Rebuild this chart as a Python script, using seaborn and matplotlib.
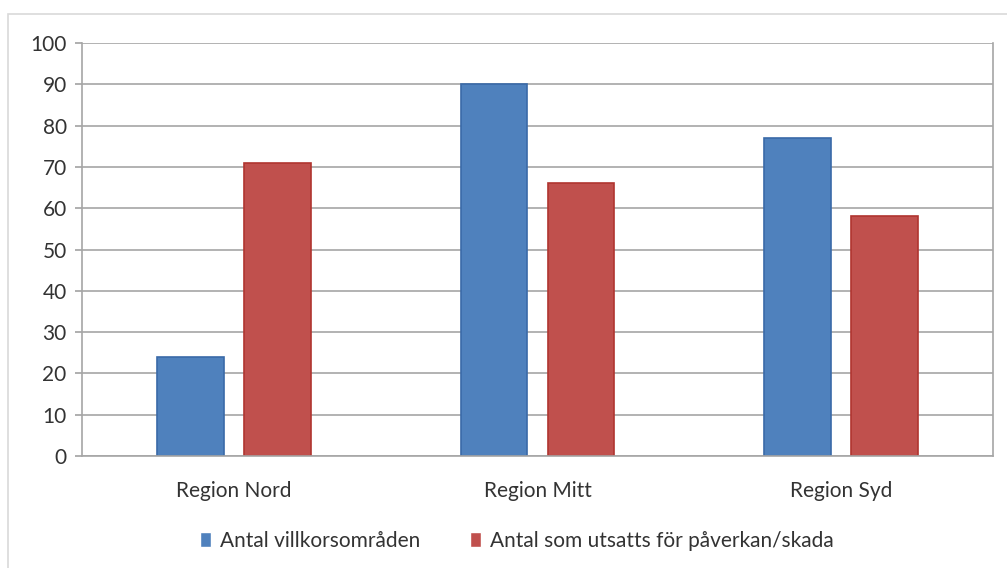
import pandas as pd
import seaborn as sns
from matplotlib import pyplot as plt
from matplotlib.patches import Rectangle

regions = ["Region Nord", "Region Mitt", "Region Syd"]
series_names = ["Antal villkorsområden", "Antal som utsatts för påverkan/skada"]
villkor = [24, 90, 77]
paverkan = [71, 66, 58]

df = pd.DataFrame({
    "Region": regions * 2,
    "Serie": [series_names[0]] * 3 + [series_names[1]] * 3,
    "Antal": villkor + paverkan,
})

sns.set_theme(style="white")
plt.rcParams['font.family'] = ['Lato', 'DejaVu Sans']
fs = 15

fig = plt.figure(figsize=(10.07, 5.68), dpi=100)
# outer chart frame
fig.patches.append(Rectangle((8 / 1007, -0.01), 1.0, (568 - 14) / 568 + 0.01,
                             transform=fig.transFigure, fill=False,
                             edgecolor="#d9d9d9", linewidth=1.2))
ax = fig.add_axes([82 / 1007, (568 - 456) / 568, (993 - 82) / 1007, (456 - 43) / 568])

palette = {series_names[0]: "#4f81bd", series_names[1]: "#c0504d"}
sns.barplot(data=df, x="Region", y="Antal", hue="Serie", palette=palette,
            width=0.573, gap=0.23, saturation=1, ax=ax, legend=True)
edge = {series_names[0]: "#3a6aa8", series_names[1]: "#b03530"}
for cont, name in zip(ax.containers, series_names):
    for bar in cont:
        bar.set_edgecolor(edge[name])
        bar.set_linewidth(1.2)

ax.set_ylim(0, 100)
ax.set_yticks(range(0, 101, 10))
ax.set_xlim(-0.5, 2.5)
ax.yaxis.grid(True, color="#a6a6a6", linewidth=1.2)
ax.set_axisbelow(True)
for s in ["left", "right", "bottom"]:
    ax.spines[s].set_color("#a6a6a6")
    ax.spines[s].set_linewidth(1.2)
ax.spines["top"].set_visible(False)
ax.tick_params(axis="y", left=True, length=5, color="#a6a6a6", labelsize=fs,
               labelcolor="#333333", pad=6)
ax.tick_params(axis="x", bottom=False, labelsize=fs, labelcolor="#333333", pad=12)
ax.set_xlabel("")
ax.set_ylabel("")

ax.legend(loc="center", bbox_to_anchor=(0.477, -0.205), ncol=2, frameon=False,
          fontsize=fs, handlelength=0.55, handleheight=0.7, handletextpad=0.4,
          columnspacing=2.4, labelcolor="#333333")

fig.savefig("out.png", dpi=100)
